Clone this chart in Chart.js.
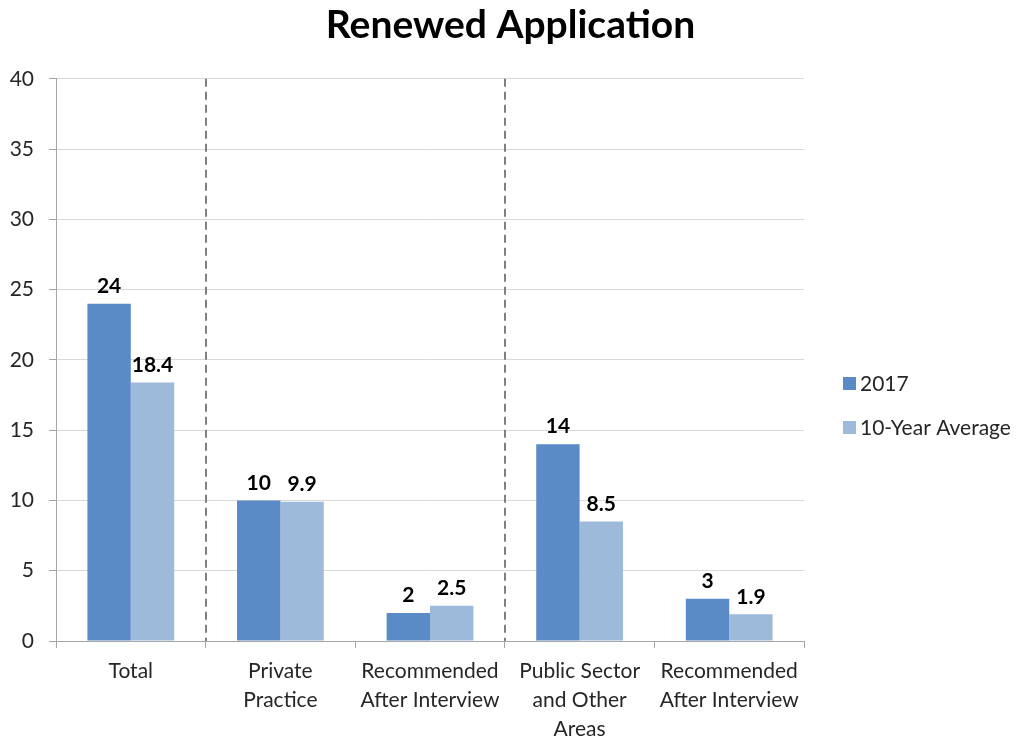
<!DOCTYPE html>
<html>
<head>
<meta charset="utf-8">
<script src="https://cdn.jsdelivr.net/npm/chart.js@4"></script>
<style>
  html, body { margin: 0; padding: 0; background: #fff; }
  #wrap { width: 1021px; height: 742px; }
</style>
</head>
<body>
<div id="wrap"><canvas id="chart_1"></canvas></div>
<script>
var categories = [
  "Total",
  ["Private", "Practice"],
  ["Recommended", "After Interview"],
  ["Public Sector", "and Other", "Areas"],
  ["Recommended", "After Interview"]
];
var values2017 = [24, 10, 2, 14, 3];
var valuesAvg = [18.4, 9.9, 2.5, 8.5, 1.9];
var yTicks = [0, 5, 10, 15, 20, 25, 30, 35, 40];
var dividerAfter = [0, 2]; // dashed line after these categories

var FONT = "Lato, 'Open Sans', sans-serif";

// bold value labels above each bar
var valueLabels = {
  id: 'valueLabels',
  afterDatasetsDraw: function(chart) {
    var ctx = chart.ctx;
    ctx.save();
    ctx.font = "bold 21px " + FONT;
    ctx.fillStyle = "#000";
    ctx.textAlign = "center";
    ctx.textBaseline = "bottom";
    chart.data.datasets.forEach(function(ds, i) {
      chart.getDatasetMeta(i).data.forEach(function(bar, j) {
        ctx.fillText(String(ds.data[j]), bar.x, bar.y - 7);
      });
    });
    ctx.restore();
  }
};

// dashed separators between category groups
var dividers = {
  id: 'dividers',
  beforeDatasetsDraw: function(chart) {
    var x = chart.scales.x, a = chart.chartArea, ctx = chart.ctx;
    ctx.save();
    ctx.strokeStyle = "#808080";
    ctx.lineWidth = 2;
    ctx.setLineDash([8, 5]);
    dividerAfter.forEach(function(i) {
      var px = Math.round((x.getPixelForValue(i) + x.getPixelForValue(i + 1)) / 2);
      ctx.beginPath();
      ctx.moveTo(px, a.top);
      ctx.lineTo(px, a.bottom);
      ctx.stroke();
    });
    ctx.restore();
  }
};

// legend on the right, placed like the original
var sideLegend = {
  id: 'sideLegend',
  afterDraw: function(chart) {
    var ctx = chart.ctx;
    var x0 = chart.chartArea.right + 39, y0 = 383;
    ctx.save();
    ctx.font = "21px " + FONT;
    ctx.textBaseline = "middle";
    chart.data.datasets.forEach(function(ds, i) {
      var y = y0 + i * 44;
      ctx.fillStyle = ds.backgroundColor;
      ctx.fillRect(x0, y - 6, 13, 13);
      ctx.fillStyle = "#262626";
      ctx.fillText(ds.label, x0 + 17, y + 1);
    });
    ctx.restore();
  }
};

var myChart = new Chart("chart_1", {
  type: "bar",
  data: {
    labels: categories,
    datasets: [
      { label: "2017", data: values2017, backgroundColor: "#5b8bc6" },
      { label: "10-Year Average", data: valuesAvg, backgroundColor: "#9dbadb" }
    ]
  },
  plugins: [valueLabels, dividers, sideLegend],
  options: {
    responsive: true,
    maintainAspectRatio: false,
    animation: false,
    datasets: { bar: { barPercentage: 1, categoryPercentage: 0.58 } },
    plugins: {
      legend: { display: false },
      tooltip: { enabled: false },
      title: {
        display: true,
        text: "Renewed Application",
        color: "#000",
        font: { family: FONT, size: 39, weight: "bold" },
        padding: { top: 2, bottom: 30 }
      }
    },
    scales: {
      x: {
        afterFit: function(s) { s.height = 101; },
        grid: { drawOnChartArea: false, drawTicks: true, tickLength: 7, color: "#a6a6a6" },
        border: { color: "#a6a6a6" },
        ticks: {
          color: "#262626",
          font: { family: FONT, size: 21, lineHeight: 1.38 },
          padding: 9,
          maxRotation: 0,
          autoSkip: false
        }
      },
      y: {
        min: 0,
        max: 40,
        afterBuildTicks: function(s) { s.ticks = yTicks.map(function(v) { return { value: v }; }); },
        afterFit: function(s) { s.width = 56; },
        grid: { color: "#d9d9d9", tickColor: "#a6a6a6", tickLength: 7 },
        border: { color: "#a6a6a6" },
        ticks: {
          color: "#262626",
          font: { family: FONT, size: 21 },
          padding: 15
        }
      },
      // empty right-hand band that leaves room for the legend
      side: {
        type: "linear",
        position: "right",
        afterFit: function(s) { s.width = 217; },
        grid: { display: false },
        border: { display: false },
        ticks: { display: false }
      }
    }
  }
});
</script>
</body>
</html>
